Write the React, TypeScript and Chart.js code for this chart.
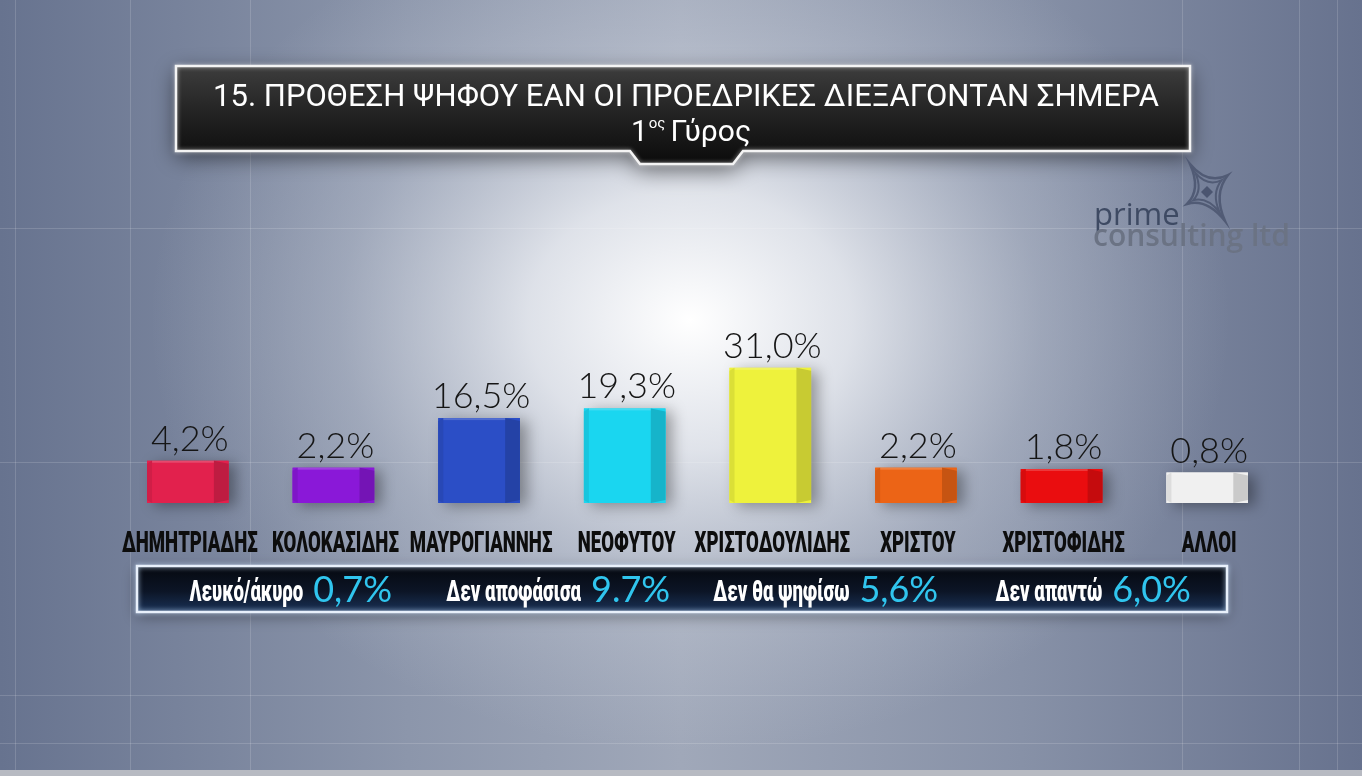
import React, { useEffect, useRef } from "react";
import { Chart, registerables } from "chart.js";

Chart.register(...registerables);

const candidates = [
  "ΔΗΜΗΤΡΙΑΔΗΣ",
  "ΚΟΛΟΚΑΣΙΔΗΣ",
  "ΜΑΥΡΟΓΙΑΝΝΗΣ",
  "ΝΕΟΦΥΤΟΥ",
  "ΧΡΙΣΤΟΔΟΥΛΙΔΗΣ",
  "ΧΡΙΣΤΟΥ",
  "ΧΡΙΣΤΟΦΙΔΗΣ",
  "ΑΛΛΟΙ",
];
const voteShare = [4.2, 2.2, 16.5, 19.3, 31.0, 2.2, 1.8, 0.8];
const barColors = [
  "#e2214d",
  "#8a18d8",
  "#2b4ec6",
  "#1ad6f0",
  "#eef23c",
  "#ec6416",
  "#ea0d0f",
  "#f0f0f0",
];
const otherLabels = ["Λευκό/άκυρο", "Δεν αποφάσισα", "Δεν θα ψηφίσω", "Δεν απαντώ"];
const otherValueLabels = ["0,7%", "9.7%", "5,6%", "6,0%"];
const titleLine1 = "15. ΠΡΟΘΕΣΗ ΨΗΦΟΥ ΕΑΝ ΟΙ ΠΡΟΕΔΡΙΚΕΣ ΔΙΕΞΑΓΟΝΤΑΝ ΣΗΜΕΡΑ";
const titleRoundNum = "1";
const titleRoundSup = "ος";
const titleRoundWord = "Γύρος";
const logoTop = "prime";
const logoBottom = "consulting ltd";

const fmt = (v: number) => v.toFixed(1).replace(".", ",") + "%";

function shade(hex: string, amt: number) {
  const n = parseInt(hex.slice(1), 16);
  let r = (n >> 16) & 255,
    g = (n >> 8) & 255,
    b = n & 255;
  r = Math.max(0, Math.min(255, Math.round(r * amt)));
  g = Math.max(0, Math.min(255, Math.round(g * amt)));
  b = Math.max(0, Math.min(255, Math.round(b * amt)));
  return `rgb(${r},${g},${b})`;
}

const CONDENSED = "900 29px Roboto";
const VALUE_FONT = "300 36px Lato";

const backgroundPlugin = {
  id: "bgDecor",
  beforeDraw(chart: any) {
    const { ctx, width, height } = chart;
    ctx.save();
    const lg = ctx.createLinearGradient(0, 0, width, 0);
    lg.addColorStop(0, "#67738f");
    lg.addColorStop(0.3, "#8c96ab");
    lg.addColorStop(0.5, "#a0a8b9");
    lg.addColorStop(0.75, "#8791a7");
    lg.addColorStop(1, "#67728e");
    ctx.fillStyle = lg;
    ctx.fillRect(0, 0, width, height);

    ctx.save();
    ctx.translate(690, 320);
    ctx.scale(1, 0.8);
    const rg = ctx.createRadialGradient(0, 0, 0, 0, 0, 540);
    rg.addColorStop(0, "rgba(255,255,255,1)");
    rg.addColorStop(0.3, "rgba(242,244,248,0.78)");
    rg.addColorStop(0.65, "rgba(215,220,230,0.3)");
    rg.addColorStop(1, "rgba(200,206,218,0)");
    ctx.fillStyle = rg;
    ctx.beginPath();
    ctx.arc(0, 0, 540, 0, Math.PI * 2);
    ctx.fill();
    ctx.restore();

    // faint grid
    ctx.strokeStyle = "rgba(255,255,255,0.15)";
    ctx.lineWidth = 1;
    [15, 130, 250, 1182, 1299, 1337].forEach((x) => {
      ctx.beginPath();
      ctx.moveTo(x + 0.5, 0);
      ctx.lineTo(x + 0.5, height);
      ctx.stroke();
    });
    [228, 462, 695, 743].forEach((y) => {
      ctx.beginPath();
      ctx.moveTo(0, y + 0.5);
      ctx.lineTo(width, y + 0.5);
      ctx.stroke();
    });

    // bottom strip
    ctx.fillStyle = "#b7bac2";
    ctx.fillRect(0, 770, width, height - 770);

    // title box
    const L = 176,
      R = 1190,
      T = 66,
      B = 151;
    ctx.save();
    ctx.beginPath();
    ctx.moveTo(L, T);
    ctx.lineTo(R, T);
    ctx.lineTo(R, B);
    ctx.lineTo(743, B);
    ctx.lineTo(733, 164);
    ctx.lineTo(640, 164);
    ctx.lineTo(630, B);
    ctx.lineTo(L, B);
    ctx.closePath();
    ctx.shadowColor = "rgba(0,0,0,0.55)";
    ctx.shadowBlur = 22;
    ctx.shadowOffsetY = 6;
    const tg = ctx.createLinearGradient(0, T, 0, 164);
    tg.addColorStop(0, "#3d3d3d");
    tg.addColorStop(0.5, "#222222");
    tg.addColorStop(1, "#0b0b0b");
    ctx.fillStyle = tg;
    ctx.fill();
    ctx.shadowColor = "rgba(255,255,255,0.6)";
    ctx.shadowBlur = 4;
    ctx.shadowOffsetY = 0;
    ctx.strokeStyle = "#f4f4f4";
    ctx.lineWidth = 2.5;
    ctx.stroke();
    ctx.restore();

    ctx.fillStyle = "#ffffff";
    ctx.textAlign = "center";
    ctx.textBaseline = "alphabetic";
    ctx.font = "400 31px Roboto";
    ctx.fillText(titleLine1, 686, 106, 957);

    ctx.textAlign = "left";
    ctx.font = "400 30px Roboto";
    const w1 = ctx.measureText(titleRoundNum).width;
    const wG = ctx.measureText(titleRoundWord).width;
    ctx.font = "400 15px Roboto";
    const wS = ctx.measureText(titleRoundSup).width;
    const total = w1 + wS + 6 + wG;
    let sx = 691 - total / 2;
    ctx.font = "400 30px Roboto";
    ctx.fillText(titleRoundNum, sx, 141);
    sx += w1 + 1;
    ctx.font = "400 15px Roboto";
    ctx.fillText(titleRoundSup, sx, 128);
    sx += wS + 5;
    ctx.font = "400 30px Roboto";
    ctx.fillText(titleRoundWord, sx, 141);

    // logo star
    ctx.save();
    ctx.translate(1207, 192);
    const pts = [
      [-17, -28],
      [21, -17],
      [18, 29],
      [-20, 12],
    ];
    const drawStar = (s: number) => {
      ctx.beginPath();
      for (let i = 0; i < 4; i++) {
        const p = pts[i];
        const q = pts[(i + 1) % 4];
        if (i === 0) ctx.moveTo(p[0] * s, p[1] * s);
        const mx = ((p[0] + q[0]) / 2) * 0.3 * s;
        const my = ((p[1] + q[1]) / 2) * 0.3 * s;
        ctx.quadraticCurveTo(mx, my, q[0] * s, q[1] * s);
      }
      ctx.closePath();
    };
    ctx.strokeStyle = "#515b75";
    ctx.lineWidth = 2.5;
    drawStar(1);
    ctx.stroke();
    ctx.lineWidth = 2;
    drawStar(0.7);
    ctx.stroke();
    ctx.fillStyle = "#4b5570";
    ctx.beginPath();
    ctx.moveTo(0, -6);
    ctx.lineTo(6, 0);
    ctx.lineTo(0, 6);
    ctx.lineTo(-6, 0);
    ctx.closePath();
    ctx.fill();
    ctx.restore();

    ctx.textAlign = "left";
    ctx.fillStyle = "#3e4a63";
    ctx.font = "400 31px 'Open Sans'";
    ctx.fillText(logoTop, 1094, 225);
    ctx.fillStyle = "#6b7384";
    ctx.font = "600 30px 'Open Sans'";
    ctx.fillText(logoBottom, 1093, 246, 202);

    // bottom info box
    const bL = 137,
      bR = 1227,
      bT = 566,
      bB = 612;
    ctx.save();
    ctx.shadowColor = "rgba(0,0,0,0.4)";
    ctx.shadowBlur = 14;
    ctx.shadowOffsetY = 4;
    const bg = ctx.createLinearGradient(0, bT, 0, bB);
    bg.addColorStop(0, "#05080f");
    bg.addColorStop(0.55, "#0c1526");
    bg.addColorStop(1, "#1a3257");
    ctx.fillStyle = bg;
    ctx.fillRect(bL, bT, bR - bL, bB - bT);
    ctx.restore();
    ctx.save();
    ctx.shadowColor = "rgba(200,225,255,0.9)";
    ctx.shadowBlur = 5;
    ctx.strokeStyle = "#e8f0fb";
    ctx.lineWidth = 2.5;
    ctx.strokeRect(bL, bT, bR - bL, bB - bT);
    ctx.restore();

    const slotW = (bR - bL - 20) / otherLabels.length;
    const labScale = 0.62;
    for (let i = 0; i < otherLabels.length; i++) {
      const cx = bL + 20 + (i + 0.5) * slotW;
      ctx.font = "900 30px Roboto";
      const lw = ctx.measureText(otherLabels[i]).width * labScale;
      ctx.font = "400 36px Lato";
      const vw = ctx.measureText(otherValueLabels[i]).width;
      const start = cx - (lw + 10 + vw) / 2;
      ctx.save();
      ctx.translate(start, 601);
      ctx.scale(labScale, 1);
      ctx.fillStyle = "#ffffff";
      ctx.font = "900 30px Roboto";
      ctx.textAlign = "left";
      ctx.fillText(otherLabels[i], 0, 0);
      ctx.restore();
      ctx.fillStyle = "#30c5ee";
      ctx.font = "400 36px Lato";
      ctx.textAlign = "left";
      ctx.fillText(otherValueLabels[i], start + lw + 10, 602);
    }
    ctx.restore();
  },
  beforeDatasetsDraw(chart: any) {
    const { ctx } = chart;
    const meta = chart.getDatasetMeta(0);
    ctx.save();
    meta.data.forEach((el: any, i: number) => {
      const { x, y, base, width } = el.getProps(["x", "y", "base", "width"], true);
      ctx.shadowColor = "rgba(0,0,0,0.35)";
      ctx.shadowBlur = 14;
      ctx.shadowOffsetX = 7;
      ctx.shadowOffsetY = 3;
      ctx.fillStyle = barColors[i];
      ctx.fillRect(x - width / 2, y, width, base - y);
    });
    ctx.restore();
  },
  afterDatasetsDraw(chart: any) {
    const { ctx } = chart;
    const meta = chart.getDatasetMeta(0);
    ctx.save();
    meta.data.forEach((el: any, i: number) => {
      const { x, y, base, width } = el.getProps(["x", "y", "base", "width"], true);
      const left = x - width / 2;
      const right = x + width / 2;
      const side = width * 0.18;
      ctx.fillStyle = shade(barColors[i], 0.84);
      ctx.beginPath();
      ctx.moveTo(right - side, y);
      ctx.lineTo(right, y + 3);
      ctx.lineTo(right, base - 3);
      ctx.lineTo(right - side, base);
      ctx.closePath();
      ctx.fill();
      ctx.fillStyle = shade(barColors[i], 0.92);
      ctx.beginPath();
      ctx.moveTo(left, y + 3);
      ctx.lineTo(left + 5, y);
      ctx.lineTo(left + 5, base);
      ctx.lineTo(left, base - 3);
      ctx.closePath();
      ctx.fill();
      ctx.fillStyle = "rgba(255,255,255,0.18)";
      ctx.fillRect(left + 5, y, width - side - 5, 2);

      ctx.fillStyle = "#151515";
      ctx.font = VALUE_FONT;
      ctx.textAlign = "center";
      ctx.textBaseline = "alphabetic";
      ctx.fillText(fmt(voteShare[i]), x + 2, y - 10);

      ctx.save();
      ctx.translate(x + 2, 552);
      ctx.scale(0.64, 1);
      ctx.fillStyle = "#0d0d0d";
      ctx.font = CONDENSED;
      ctx.fillText(candidates[i], 0, 0);
      ctx.restore();
    });
    ctx.restore();
  },
};

export default function App() {
  const ref = useRef<HTMLCanvasElement | null>(null);
  useEffect(() => {
    document.body.style.margin = "0";
    document.body.style.overflow = "hidden";
    if (!ref.current) return;
    const chart = new Chart(ref.current, {
      type: "bar",
      data: {
        labels: candidates,
        datasets: [
          {
            data: voteShare,
            backgroundColor: barColors,
            base: -8,
            barPercentage: 0.56,
            categoryPercentage: 1,
            borderWidth: 0,
          } as any,
        ],
      },
      options: {
        responsive: false,
        animation: false,
        devicePixelRatio: 1,
        layout: { padding: { left: 115, right: 82, top: 302, bottom: 273 } },
        scales: {
          x: { display: false },
          y: { display: false, min: -8, max: 50 },
        },
        plugins: {
          legend: { display: false },
          tooltip: { enabled: false },
        },
      },
      plugins: [backgroundPlugin],
    });
    return () => chart.destroy();
  }, []);
  return (
    <canvas
      ref={ref}
      width={1362}
      height={776}
      style={{ display: "block", width: 1362, height: 776 }}
    />
  );
}
